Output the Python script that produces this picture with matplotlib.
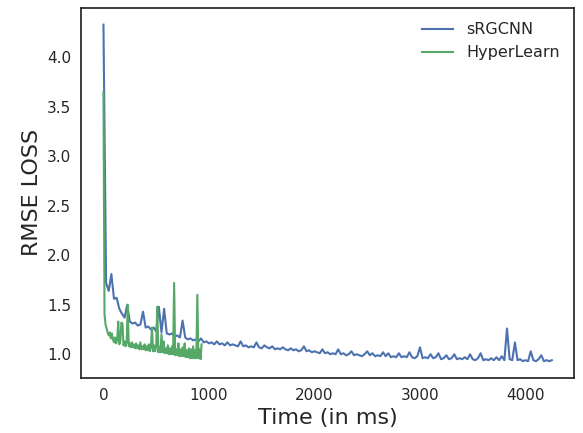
import numpy as np
import matplotlib
matplotlib.use('Agg')
import matplotlib.pyplot as plt

# Tiempos (ms) y valores de perdida
t_srgcnn = np.arange(0, 4251, 25)
rmse_srgcnn = [
    4.33, 1.72, 1.64, 1.81, 1.56, 1.57, 1.46, 1.41, 1.37, 1.50,
    1.33, 1.31, 1.32, 1.29, 1.30, 1.43, 1.27, 1.28, 1.25, 1.27,
    1.23, 1.48, 1.22, 1.46, 1.21, 1.20, 1.21, 1.18, 1.19, 1.17,
    1.34, 1.17, 1.15, 1.16, 1.14, 1.15, 1.13, 1.16, 1.12, 1.13,
    1.11, 1.12, 1.10, 1.13, 1.10, 1.11, 1.09, 1.12, 1.09, 1.10,
    1.09, 1.08, 1.13, 1.08, 1.09, 1.07, 1.08, 1.07, 1.12, 1.07,
    1.06, 1.09, 1.07, 1.06, 1.08, 1.05, 1.06, 1.05, 1.07, 1.05,
    1.04, 1.06, 1.04, 1.05, 1.03, 1.04, 1.08, 1.03, 1.04, 1.02,
    1.03, 1.02, 1.01, 1.05, 1.01, 1.02, 1.00, 1.01, 1.00, 1.05,
    1.00, 1.01, 0.99, 1.00, 1.03, 0.99, 1.00, 0.99, 0.98, 1.00,
    1.03, 0.99, 1.01, 0.98, 0.99, 0.98, 1.02, 0.98, 1.01, 0.97,
    0.98, 0.97, 1.01, 0.97, 0.98, 0.97, 1.02, 0.97, 0.96, 0.98,
    1.07, 0.96, 0.97, 0.96, 1.00, 0.96, 0.97, 1.01, 0.95, 0.96,
    0.99, 0.95, 0.96, 1.00, 0.95, 0.96, 0.95, 0.97, 0.95, 1.00,
    0.95, 0.94, 0.96, 1.01, 0.94, 0.95, 0.94, 0.96, 0.94, 0.97,
    0.94, 0.98, 0.94, 1.26, 0.95, 0.94, 1.12, 0.94, 0.95, 0.93,
    0.94, 0.93, 1.03, 0.94, 0.93, 0.95, 0.99, 0.93, 0.94, 0.93,
    0.94,
]

t_hyper = np.arange(0, 931, 10)
rmse_hyper = [
    3.65, 1.40, 1.30, 1.26, 1.22, 1.19, 1.22, 1.16, 1.21, 1.15,
    1.12, 1.17, 1.11, 1.15, 1.33, 1.10, 1.13, 1.32, 1.31, 1.09,
    1.13, 1.08, 1.12, 1.50, 1.08, 1.11, 1.07, 1.12, 1.07, 1.10,
    1.06, 1.11, 1.06, 1.09, 1.05, 1.12, 1.05, 1.08, 1.05, 1.10,
    1.04, 1.08, 1.04, 1.10, 1.03, 1.07, 1.27, 1.03, 1.09, 1.03,
    1.08, 1.48, 1.02, 1.07, 1.02, 1.20, 1.02, 1.13, 1.01, 1.06,
    1.01, 1.09, 1.00, 1.06, 1.00, 1.08, 1.00, 1.72, 0.99, 1.05,
    0.99, 1.11, 0.98, 1.05, 0.98, 1.07, 0.98, 1.11, 0.97, 1.04,
    0.97, 1.06, 0.96, 1.05, 0.96, 1.08, 0.96, 1.04, 0.96, 1.60,
    0.96, 1.05, 0.95, 1.10,
]

plt.rcParams['font.family'] = 'DejaVu Sans'
plt.rcParams['text.color'] = '.15'
plt.rcParams['axes.labelcolor'] = '.15'
plt.rcParams['xtick.color'] = '.15'
plt.rcParams['ytick.color'] = '.15'

fig = plt.figure(figsize=(5.83, 4.33), dpi=100)
ax = fig.add_axes([0.139, 0.127, 0.846, 0.855])

ax.plot(t_srgcnn, rmse_srgcnn, color='#4C72B0', lw=1.5, label='sRGCNN')
ax.plot(t_hyper, rmse_hyper, color='#55A868', lw=1.5, label='HyperLearn')

ax.set_xlabel('Time (in ms)', fontsize=16)
ax.set_ylabel('RMSE LOSS', fontsize=16)
ax.set_xticks([0, 1000, 2000, 3000, 4000])
ax.set_yticks([1.0, 1.5, 2.0, 2.5, 3.0, 3.5, 4.0])
ax.tick_params(length=0, labelsize=11, pad=7)
for s in ax.spines.values():
    s.set_color('.15')
    s.set_linewidth(1.25)

ax.legend(loc='upper right', frameon=False, fontsize=11.5)

plt.savefig('out.png', dpi=100)
